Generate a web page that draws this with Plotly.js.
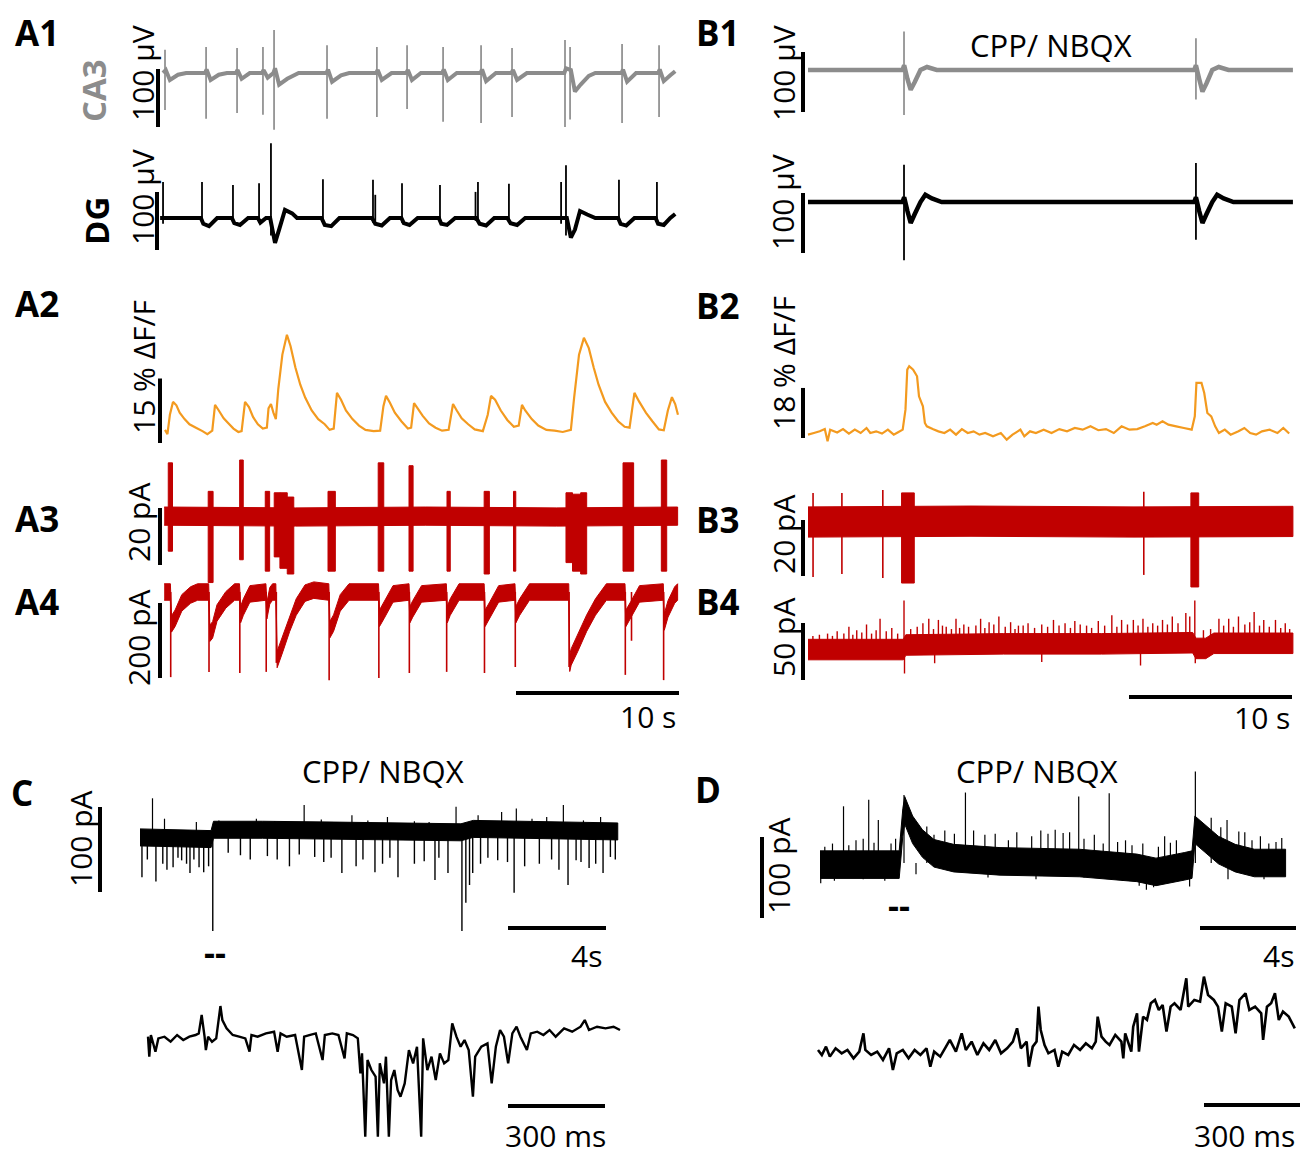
<!DOCTYPE html>
<html><head><meta charset="utf-8">
<script src="https://cdn.plot.ly/plotly-3.0.1.min.js"></script>
<style>html,body{margin:0;padding:0;background:#fff}#chart{width:1302px;height:1157px}</style>
</head><body><div id="chart"></div>
<script>
// ================= DATA (time in s / ms, amplitudes in µV, %ΔF/F, pA) =================
// A1 CA3 field potential (µV)
const ca3SpikeT  = [0.0, 2.52, 4.42, 6.01, 6.69, 9.94, 13.0, 14.85, 17.06, 19.39, 21.29, 24.54, 24.85, 28.04, 30.31];
const ca3SpikeHi = [40, 45, 43, 45, 74, 48, 45, 48, 45, 48, 43, 57, 45, 50, 48];
const ca3SpikeLo = [-64, -79, -69, -72, -98, -79, -76, -62, -84, -86, -76, -93, -80, -86, -76];
const ca3Slow = [[-0.12,0],[0.05,5],[0.3,-12],[0.8,-3],[1.3,0],[2.45,0],[2.55,6],[2.8,-12],[3.3,-3],[3.8,0],[4.35,0],[4.45,5],[4.7,-10],[5.2,0],[5.95,0],[6.05,5],[6.3,-8],[6.65,0],[6.75,8],[7.0,-20],[7.5,-10],[8.2,0],[9.9,0],[10.0,6],[10.25,-15],[10.8,-4],[11.3,0],[12.95,0],[13.05,5],[13.3,-12],[13.9,0],[14.8,0],[14.9,5],[15.15,-12],[15.7,0],[17.0,0],[17.1,6],[17.35,-12],[17.9,0],[19.35,0],[19.45,6],[19.7,-14],[20.3,0],[21.25,0],[21.35,5],[21.6,-12],[22.2,0],[24.5,0],[24.6,8],[24.9,5],[25.15,-32],[25.5,-20],[26.0,-5],[26.4,0],[28.0,0],[28.1,6],[28.35,-15],[28.9,0],[30.25,0],[30.35,6],[30.6,-14],[31.0,-4],[31.3,3]];
// A1 DG field potential (µV)
const dgSpikeT  = [-0.12, 2.27, 4.17, 5.77, 6.5, 9.69, 12.76, 12.9, 14.54, 16.87, 19.05, 19.2, 21.1, 24.3, 24.6, 27.85, 30.18];
const dgSpikeHi = [62, 62, 57, 60, 129, 67, 66, 40, 60, 57, 45, 62, 59, 62, 91, 66, 62];
const dgSpikeLo = [-10, -8, -8, -8, -30, -8, -8, -5, -8, -8, -5, -8, -8, -10, -30, -8, -8];
const dgSlow = [[-0.3,0],[2.2,0],[2.35,-10],[2.7,-14],[3.2,0],[4.1,0],[4.25,-9],[4.6,-12],[5.1,0],[5.7,0],[5.85,-8],[6.2,0],[6.45,0],[6.75,-43],[7.0,-20],[7.36,14],[7.8,8],[8.1,0],[9.6,0],[9.8,-12],[10.2,-14],[10.7,0],[12.7,0],[12.9,-10],[13.3,-13],[13.8,0],[14.5,0],[14.65,-9],[15.0,-12],[15.5,0],[16.8,0],[16.95,-10],[17.3,-12],[17.8,0],[19.1,0],[19.3,-10],[19.7,-13],[20.2,0],[21.0,0],[21.2,-9],[21.6,-12],[22.1,0],[24.2,0],[24.65,0],[24.9,-34],[25.15,-20],[25.46,12],[25.9,6],[26.4,0],[27.8,0],[27.95,-10],[28.3,-13],[28.8,0],[30.1,0],[30.25,-10],[30.6,-12],[31.0,0],[31.3,7]];
// B1 (CPP/NBQX) CA3 and DG (µV)
const b1gSpikeT = [5.89, 23.8], b1gSpikeHi = [64, 53], b1gSpikeLo = [-75, -49];
const b1gSlow = [[0,0],[5.8,0],[5.9,8],[6.1,-15],[6.3,-33],[6.55,-20],[6.9,0],[7.3,5],[7.9,0],[23.7,0],[23.8,8],[24.0,-15],[24.2,-36],[24.45,-22],[24.8,0],[25.2,5],[25.8,0],[29.75,0]];
const b1kSpikeT = [5.89, 23.8], b1kSpikeHi = [62, 65], b1kSpikeLo = [-97, -63];
const b1kSlow = [[0,0],[5.8,0],[5.9,8],[6.1,-15],[6.3,-35],[6.55,-20],[6.9,0],[7.2,12],[7.6,6],[8.2,0],[23.7,0],[23.8,8],[24.0,-15],[24.2,-35],[24.45,-20],[24.8,0],[25.1,12],[25.5,6],[26.1,0],[29.75,0]];
// A2 calcium signal (% ΔF/F)
const a2Trace = [[0.0,0.5],[0.15,-0.5],[0.3,4],[0.49,7.0],[0.7,6.2],[0.9,4.5],[1.2,3],[1.5,1.8],[1.9,1.0],[2.3,0.2],[2.6,-0.5],[2.9,0.3],[3.07,6.3],[3.3,5.0],[3.6,3.2],[3.9,2.0],[4.2,0.8],[4.5,0.0],[4.7,0.2],[4.91,7.0],[5.15,5.8],[5.4,3.5],[5.7,1.8],[6.0,0.8],[6.25,1.0],[6.35,5.5],[6.5,6.5],[6.65,4.5],[6.8,3.0],[6.95,10],[7.2,18],[7.48,22.6],[7.7,20],[8.0,15],[8.3,11],[8.6,8],[9.0,5],[9.4,3],[9.8,1.8],[10.1,0.5],[10.35,0.8],[10.55,9.1],[10.8,7.5],[11.1,5],[11.5,3],[11.9,1.5],[12.3,0.5],[12.8,0.2],[13.2,0.3],[13.4,6],[13.56,8.4],[13.8,6.8],[14.1,4.5],[14.5,2.5],[14.9,0.8],[15.1,1],[15.28,6.7],[15.5,5.5],[15.8,3.8],[16.2,2.0],[16.6,1.0],[17.0,0.3],[17.4,0.5],[17.67,6.5],[17.9,5.0],[18.2,3.2],[18.6,1.8],[19.0,0.6],[19.5,0.2],[19.8,4],[20.0,8.4],[20.25,7.5],[20.6,5],[21.0,2.8],[21.4,1.2],[21.7,1.5],[21.9,6.3],[22.1,5.0],[22.5,3.0],[22.9,1.5],[23.4,0.5],[23.9,0.3],[24.4,0.0],[24.9,0.5],[25.1,8],[25.4,18],[25.7,21.9],[26.0,19.5],[26.3,15],[26.6,11],[27.0,7],[27.4,4.5],[27.8,2.5],[28.2,1.2],[28.5,1.0],[28.8,9.1],[29.1,7.0],[29.5,4.5],[29.9,2.5],[30.3,0.6],[30.6,0.4],[30.85,5],[31.1,8.1],[31.3,6.5],[31.47,4.0]];
// B2 calcium signal (% ΔF/F)
const b2Trace = [[0,-0.6],[0.36,0],[0.72,0.6],[1.03,1.4],[1.2,-3.0],[1.36,1.2],[1.79,0.2],[2.15,1.4],[2.51,-0.2],[2.87,1.2],[3.23,0],[3.59,1.8],[3.82,0],[4.18,0.6],[4.54,-0.2],[4.9,1.2],[5.26,-0.6],[5.5,0.2],[5.81,1.2],[5.98,8.4],[6.09,22.8],[6.21,24.0],[6.45,22.8],[6.69,20.4],[6.81,13.2],[7.05,9.6],[7.17,3.6],[7.29,2.4],[7.65,1.4],[8.0,0.6],[8.37,0],[8.72,1.2],[9.08,-0.6],[9.44,1.4],[9.8,0],[10.16,0.6],[10.52,-0.6],[10.87,0],[11.35,-1.2],[11.83,0],[12.19,-2.4],[12.55,-0.6],[13.03,1.2],[13.27,-1.2],[13.62,0.6],[13.98,0],[14.46,1.2],[14.94,0],[15.42,1.4],[15.89,0.6],[16.37,1.8],[16.85,1.2],[17.33,2.4],[17.81,1.0],[18.28,1.4],[18.76,0],[19.24,2.4],[19.72,1.2],[20.2,1.4],[20.67,2.4],[21.15,3.6],[21.39,3.0],[21.75,4.2],[22.11,3.0],[22.59,2.4],[23.06,1.8],[23.54,1.2],[23.73,6.0],[23.83,18.0],[24.14,18.0],[24.31,14.4],[24.5,7.2],[24.74,6.0],[24.98,2.4],[25.21,0],[25.57,1.2],[25.93,-0.6],[26.41,0.6],[26.77,1.8],[27.13,0],[27.49,-0.6],[27.85,0.6],[28.32,1.2],[28.8,0],[29.16,1.8],[29.52,-0.2]];
// A3 cell-attached current (pA): noise band centre, half-width, bursts
const a3Band = [[-0.05,0.3],[8,0],[16,0.3],[24,0],[31.45,0.3]];
const a3Noise = 3.2;
const a3BurstT0 = [0.2, 2.65, 4.58, 6.15, 6.7, 7.05, 7.5, 10.0, 13.08, 14.97, 17.3, 19.58, 21.38, 24.6, 25.0, 25.5, 28.1, 30.45];
const a3BurstT1 = [0.46, 2.95, 4.8, 6.42, 7.05, 7.5, 7.9, 10.45, 13.42, 15.22, 17.5, 19.9, 21.52, 25.0, 25.5, 25.87, 28.75, 30.78];
const a3BurstHi = [19, 9, 20, 9, 8.5, 8.5, 7, 9, 19, 18, 9, 9, 9, 8.5, 8, 8.5, 19, 20];
const a3BurstLo = [-12, -23, -15, -19, -14, -18, -20, -19, -19, -19, -19, -20, -19, -16, -19, -20, -19, -19];
// A4 whole-cell current (pA)
const a4Slow = [[-0.05,0],[0.33,0],[0.4,-85],[0.62,-70],[1.03,-29],[1.57,-8],[2.0,0],[2.68,0],[2.75,-110],[2.92,-101],[3.19,-56],[3.73,-21],[4.27,0],[4.57,0],[4.64,-60],[4.81,-40],[5.21,-5],[6.19,0],[6.25,-50],[6.43,-10],[6.6,0],[6.8,0],[6.88,-180],[7.24,-136],[7.65,-83],[8.05,-40],[8.59,-3],[9.13,5],[10.05,0],[10.12,-100],[10.34,-83],[10.75,-29],[11.29,0],[13.1,0],[13.16,-70],[13.45,-48],[13.99,-5],[14.97,0],[15.03,-60],[15.2,-45],[15.74,-5],[17.26,0],[17.32,-60],[17.5,-40],[18.04,0],[19.58,0],[19.64,-70],[19.93,-48],[20.47,-5],[21.47,0],[21.53,-60],[21.76,-40],[22.36,0],[24.77,0],[24.83,-190],[24.92,-173],[25.33,-136],[25.87,-83],[26.41,-40],[27.08,0],[28.22,0],[28.28,-70],[28.57,-48],[29.11,-5],[30.57,0],[30.63,-80],[30.86,-45],[31.27,-8],[31.45,0]];
const a4Noise = 22;
const a4SpikeT  = [0.35, 2.7, 4.59, 6.21, 6.83, 10.07, 13.12, 14.99, 17.28, 19.6, 21.49, 24.79, 28.24, 28.62, 30.59];
const a4SpikeLo = [-227, -213, -216, -213, -189, -235, -229, -216, -213, -216, -200, -200, -221, -130, -235];
// B3 cell-attached current (pA)
const b3Band = [[0,0],[10,0.3],[20,0],[29.75,0.2]];
const b3Noise = 5.4;
const b3SpikeT = [0.31, 2.08, 4.59, 20.6], b3SpikeHi = [10.4, 10.4, 11.4, 10.8], b3SpikeLo = [-19.6, -18.6, -20, -18.9];
const b3BurstT0 = [5.74, 23.49], b3BurstT1 = [6.52, 23.97], b3BurstHi = [10.4, 10.4], b3BurstLo = [-21.8, -23.2];
// B4 whole-cell current (pA)
const b4Slow = [[0,-4],[5.85,-4],[6.0,0],[12,1],[18,1],[23.6,2],[23.8,-3],[24.4,-3],[24.9,1.5],[29.75,1.5]];
const b4Noise = 9;
const b4SpikeT  = [0.3,0.7,1.2,1.5,1.79,2.2,2.51,2.75,2.99,3.3,3.59,3.9,4.18,4.42,4.8,5.14,5.5,5.89,6.3,6.7,7.05,7.41,7.7,8.0,8.25,8.48,8.8,9.08,9.3,9.56,9.85,10.3,10.59,10.85,11.11,11.4,11.71,12.1,12.43,12.7,12.91,13.2,13.5,13.9,14.34,14.7,15.06,15.4,15.77,16.1,16.37,16.7,17.09,17.4,17.81,18.2,18.64,18.95,19.24,19.6,19.96,20.25,20.55,20.85,21.15,21.45,21.75,22.05,22.35,22.7,23.18,23.42,23.73,24.26,24.7,25.21,25.5,25.81,26.1,26.41,26.8,27.1,27.37,27.7,27.96,28.3,28.68,29.0,29.28,29.55];
const b4SpikeHi = [8,9,10,8,12,10,16,9,13,11,18,10,13,23,12,15,10,39,14,16,19,23,14,22,17,16,14,23,15,18,16,17,23,15,20,18,25,16,20,14,17,17,19,15,18,16,22,17,19,15,21,18,17,15,21,17,26,16,22,18,22,17,23,16,19,17,22,18,25,19,28,25,39,13,14,23,17,23,16,25,18,20,29,17,22,16,22,15,19,14];
const b4DownT  = [5.92, 7.77, 14.34, 20.4, 23.76];
const b4DownLo = [-25, -16, -15, -18, -16];
// C: current under CPP/NBQX (pA, s)
const cBand = [[0,-4],[1.5,-5],[2.9,-6],[3.0,5],[5,5],[8,4],[11,3],[13.1,2],[13.6,6],[16,5],[19.5,3]];
const cNoise = 10;
const cDownT  = [0.08,0.3,0.65,0.93,1.1,1.35,1.55,1.7,1.9,2.04,2.2,2.41,2.6,2.8,2.97,3.6,4.1,4.5,5.2,5.6,6.1,6.5,7.13,7.5,7.8,8.24,8.82,9.1,9.59,9.9,10.2,10.53,11.2,11.6,12.04,12.2,12.57,13.14,13.3,13.45,13.58,13.9,14.2,14.6,15.0,15.27,15.7,16.3,16.8,17.1,17.47,17.8,18.0,18.33,18.6,18.9,19.2,19.4];
const cDownLo = [-51,-30,-56,-35,-42,-39,-28,-31,-35,-46,-30,-39,-45,-38,-114,-22,-25,-30,-26,-30,-38,-24,-27,-33,-28,-46,-38,-30,-45,-35,-28,-51,-35,-32,-54,-28,-46,-114,-81,-60,-46,-35,-28,-31,-33,-69,-38,-35,-30,-42,-60,-31,-33,-40,-35,-46,-27,-30];
const cUpT  = [0.51,1.0,2.3,3.22,4.75,5.5,6.7,7.4,8.65,9.3,10.1,11.2,11.8,12.9,13.8,14.76,15.36,16.0,16.6,17.28,18.1,18.8];
const cUpHi = [42,18,14,16,18,15,34,17,22,16,20,15,14,32,22,26,30,18,20,34,16,20];
// C inset (pA, ms)
const cInset = [[0,0],[4,-60],[9,5],[23,-45],[32,-5],[51,0],[70,-15],[90,5],[109,-10],[128,0],[147,5],[157,10],[166,65],[175,0],[179,-40],[186,0],[198,-15],[211,-5],[224,92],[230,50],[243,25],[262,5],[282,0],[301,-5],[314,-45],[320,5],[339,0],[365,10],[390,15],[401,-45],[410,10],[429,0],[455,5],[476,-100],[483,0],[499,5],[519,10],[540,-70],[547,5],[570,10],[589,5],[608,-65],[615,10],[634,5],[649,-5],[657,-110],[662,-50],[672,-300],[679,-70],[691,-100],[704,-120],[711,-300],[717,-80],[730,-140],[736,-60],[745,-300],[752,-130],[762,-100],[772,-160],[781,-180],[794,-140],[807,-40],[820,-80],[832,-30],[845,-300],[851,-5],[864,-100],[877,-60],[890,-130],[903,-50],[916,-80],[929,-70],[941,40],[954,0],[967,-30],[979,-10],[992,-40],[1005,-180],[1012,-60],[1031,-30],[1050,-20],[1063,-140],[1076,-30],[1089,20],[1101,0],[1114,-80],[1127,10],[1140,30],[1152,0],[1172,-40],[1184,10],[1204,15],[1223,5],[1242,20],[1261,0],[1287,25],[1312,15],[1338,30],[1351,50],[1364,20],[1389,30],[1415,25],[1440,30],[1460,20]];
// D: current under CPP/NBQX (pA, s)
const dBand = [[0,-2],[3.3,-2],[3.45,50],[3.53,65],[3.86,41],[4.27,24],[4.75,12],[5.57,6],[7.5,2],[10.8,0],[13.2,-6],[14.0,-11],[15.2,-4],[15.5,-2],[15.62,41],[16.15,28],[16.6,16],[17.3,6],[18.1,0],[19.4,0]];
const dNoise = 17;
const dUpT  = [0.2,0.52,0.98,1.2,1.5,1.8,2.03,2.25,2.43,2.96,3.15,3.5,4.45,4.75,5.2,5.6,6.06,6.4,6.87,7.3,7.85,8.2,8.82,9.2,9.5,9.8,10.13,10.4,10.78,11.0,11.43,11.8,12.05,12.4,12.73,13.0,13.45,14.1,14.36,14.6,14.85,15.64,16.3,16.7,16.96,17.45,17.7,18.0,18.35,18.7,19.0,19.24];
const dUpHi = [20,24,70,22,28,30,78,25,53,24,30,84,45,35,40,36,87,40,35,36,28,38,33,40,36,41,37,38,82,30,35,24,86,26,28,22,24,20,33,25,28,113,56,44,53,39,38,28,33,24,26,31];
const dDownT  = [0.03,0.6,1.8,2.7,4.0,7.0,9.0,11.0,12.6,13.3,13.6,13.9,14.3,15.4,17.0,18.5];
const dDownLo = [-25,-22,-20,-22,-14,-18,-20,-18,-22,-28,-33,-30,-25,-29,-20,-20];
// D inset (pA, ms)
const dInset = [[0,10],[12,-5],[25,20],[37,-10],[55,15],[74,0],[92,10],[111,-15],[129,5],[142,60],[148,10],[166,-5],[185,5],[203,-20],[222,15],[234,-50],[246,0],[265,10],[283,-15],[302,10],[320,-5],[339,15],[351,-40],[363,5],[382,-10],[400,20],[412,40],[431,5],[449,60],[462,10],[480,35],[498,-5],[517,30],[535,10],[554,40],[572,0],[591,15],[609,35],[622,75],[634,15],[652,35],[659,-40],[671,20],[683,35],[689,140],[696,70],[708,25],[720,0],[739,10],[751,-40],[763,5],[782,-5],[800,25],[819,10],[837,30],[856,15],[868,35],[874,110],[886,50],[899,35],[911,25],[929,55],[948,35],[954,-15],[960,60],[979,5],[985,80],[997,120],[1003,5],[1016,110],[1028,100],[1040,150],[1053,160],[1065,130],[1077,145],[1089,65],[1102,140],[1114,150],[1133,130],[1151,225],[1157,140],[1176,160],[1194,155],[1206,230],[1219,175],[1237,160],[1250,140],[1262,65],[1274,150],[1293,140],[1305,60],[1317,160],[1336,180],[1348,130],[1366,140],[1385,120],[1391,40],[1403,140],[1416,150],[1428,180],[1440,100],[1453,125],[1471,110],[1490,75]];
// Scale-bar values
const vBarLabels = ['100 µV','100 µV','100 µV','100 µV','15 % ΔF/F','18 % ΔF/F','20 pA','20 pA','200 pA','50 pA','100 pA','100 pA'];
const vBarValues = [100, 100, 100, 100, 15, 18, 20, 20, 200, 50, 100, 100];
const tBarLabels = ['10 s','10 s','4s','4s','300 ms','300 ms'];
const tBarValues = [10, 10, 4, 4, 300, 300];
const panelLetters = ['A1','B1','A2','B2','A3','B3','A4','B4','C','D'];

// ================= RENDERING =================
const W = 1302, H = 1157;
const FONT = "'Open Sans', 'Liberation Sans', sans-serif";
const GRAY = '#8c8c8c', ORANGE = '#f39a1f', RED = '#c00000', BLACK = '#000000';
const layout = {width: W, height: H, margin: {l:0, r:0, t:0, b:0}, paper_bgcolor: '#ffffff',
  plot_bgcolor: 'rgba(0,0,0,0)', showlegend: false, shapes: [], annotations: []};
const data = [];
let nAx = 0;
function panel(box, tpx0, ppu, base, k) {
  nAx++; const s = nAx === 1 ? '' : String(nAx);
  layout['xaxis' + s] = {domain: [box[0] / W, box[1] / W], range: [(box[0] - tpx0) / ppu, (box[1] - tpx0) / ppu],
    visible: false, fixedrange: true, anchor: 'y' + s};
  layout['yaxis' + s] = {domain: [1 - box[3] / H, 1 - box[2] / H], range: [(base - box[3]) / k, (base - box[2]) / k],
    visible: false, fixedrange: true, anchor: 'x' + s};
  return {xa: 'x' + s, ya: 'y' + s, toX: px => (px - tpx0) / ppu, toY: py => (base - py) / k};
}
function line(P, pairs, color, width) {
  data.push({type: 'scatter', mode: 'lines', xaxis: P.xa, yaxis: P.ya, x: pairs.map(p => p[0]), y: pairs.map(p => p[1]),
    line: {color, width, simplify: false}, hoverinfo: 'skip'});
}
// noise band: centre line +/- the noise half-width
function band(P, pairs, hw, color) {
  const x = pairs.map(p => p[0]).concat(pairs.map(p => p[0]).reverse());
  const y = pairs.map(p => p[1] + hw).concat(pairs.map(p => p[1] - hw).reverse());
  data.push({type: 'scatter', mode: 'lines', xaxis: P.xa, yaxis: P.ya, x, y, fill: 'toself', fillcolor: color,
    line: {color, width: 1}, hoverinfo: 'skip'});
}
function spikes(P, ts, his, los, color, width) {
  const x = [], y = [];
  ts.forEach((t, i) => { x.push(t, t, null); y.push(los[i], his[i], null); });
  data.push({type: 'scatter', mode: 'lines', xaxis: P.xa, yaxis: P.ya, x, y, line: {color, width, simplify: false}, hoverinfo: 'skip'});
}
function blocks(P, t0, t1, hi, lo, color) {
  const x = [], y = [];
  t0.forEach((a, i) => { const b = t1[i]; x.push(a, b, b, a, a, null); y.push(lo[i], lo[i], hi[i], hi[i], lo[i], null); });
  data.push({type: 'scatter', mode: 'lines', xaxis: P.xa, yaxis: P.ya, x, y, fill: 'toself', fillcolor: color,
    line: {color, width: 1}, hoverinfo: 'skip'});
}
function vbar(P, xpx, ybot, val) {
  const x = P.toX(xpx), y0 = P.toY(ybot);
  layout.shapes.push({type: 'line', xref: P.xa, yref: P.ya, x0: x, x1: x, y0: y0, y1: y0 + val, line: {color: BLACK, width: 4}});
}
function hbar(P, xstart, ypx, val) {
  const x0 = P.toX(xstart), y = P.toY(ypx);
  layout.shapes.push({type: 'line', xref: P.xa, yref: P.ya, x0: x0, x1: x0 + val, y0: y, y1: y, line: {color: BLACK, width: 4}});
}
function txt(text, xpx, ypx, size, angle, color, yanchor) {
  layout.annotations.push({text, x: xpx / W, y: 1 - ypx / H, xref: 'paper', yref: 'paper', showarrow: false,
    xanchor: 'center', yanchor: yanchor || 'middle', textangle: angle || 0, borderpad: 0,
    font: {family: FONT, size, color: color || BLACK}});
}
const zeros = ts => ts.map(() => 0);

// panels: box [x0,x1,y0,y1] px, px of t=0, px per time unit, px of baseline, px per amplitude unit
const A1c = panel([150, 690, 18, 140], 165, 16.3, 73, 0.58);
const A1d = panel([150, 690, 140, 278], 165, 16.3, 218, 0.58);
const B1g = panel([790, 1300, 18, 135], 808, 16.3, 70, 0.6);
const B1k = panel([790, 1300, 140, 278], 808, 16.3, 202, 0.6);
const A2p = panel([150, 690, 320, 452], 165, 16.3, 432, 4.3);
const B2p = panel([790, 1300, 340, 452], 808, 16.3, 433, 2.78);
const A3p = panel([150, 690, 455, 587], 165, 16.3, 517, 2.85);
const A4p = panel([150, 690, 578, 702], 165, 16.3, 592, 0.375);
const B3p = panel([790, 1300, 480, 600], 808, 16.3, 522, 2.8);
const B4p = panel([790, 1300, 590, 706], 808, 16.3, 645, 1.14);
const Ctp = panel([90, 630, 760, 936], 140, 24.5, 834, 0.85);
const Cbp = panel([90, 630, 990, 1150], 148, 0.3233, 1036.7, 1 / 3);
const Dtp = panel([745, 1302, 760, 936], 820, 24, 863, 0.81);
const Dbp = panel([745, 1302, 960, 1150], 818, 0.32, 1053.3, 1 / 3);

// A1
line(A1c, ca3Slow, GRAY, 4); spikes(A1c, ca3SpikeT, ca3SpikeHi, ca3SpikeLo, GRAY, 1.7);
line(A1d, dgSlow, BLACK, 4); spikes(A1d, dgSpikeT, dgSpikeHi, dgSpikeLo, BLACK, 1.8);
// B1
line(B1g, b1gSlow, GRAY, 4.5); spikes(B1g, b1gSpikeT, b1gSpikeHi, b1gSpikeLo, GRAY, 1.7);
line(B1k, b1kSlow, BLACK, 4.5); spikes(B1k, b1kSpikeT, b1kSpikeHi, b1kSpikeLo, BLACK, 1.8);
// A2 / B2
line(A2p, a2Trace, ORANGE, 2.2);
line(B2p, b2Trace, ORANGE, 2.2);
// A3 / A4
band(A3p, a3Band, a3Noise, RED); blocks(A3p, a3BurstT0, a3BurstT1, a3BurstHi, a3BurstLo, RED);
band(A4p, a4Slow, a4Noise, RED); spikes(A4p, a4SpikeT, zeros(a4SpikeT), a4SpikeLo, RED, 1.6);
// B3 / B4
band(B3p, b3Band, b3Noise, RED); spikes(B3p, b3SpikeT, b3SpikeHi, b3SpikeLo, RED, 1.6);
blocks(B3p, b3BurstT0, b3BurstT1, b3BurstHi, b3BurstLo, RED);
band(B4p, b4Slow, b4Noise, RED); spikes(B4p, b4SpikeT, b4SpikeHi, zeros(b4SpikeT), RED, 1.4);
spikes(B4p, b4DownT, zeros(b4DownT), b4DownLo, RED, 1.4);
// C
band(Ctp, cBand, cNoise, BLACK); spikes(Ctp, cDownT, zeros(cDownT), cDownLo, BLACK, 1.4);
spikes(Ctp, cUpT, cUpHi, zeros(cUpT), BLACK, 1.2);
line(Cbp, cInset, BLACK, 2.4);
// D
band(Dtp, dBand, dNoise, BLACK); spikes(Dtp, dUpT, dUpHi, zeros(dUpT), BLACK, 1.2);
spikes(Dtp, dDownT, zeros(dDownT), dDownLo, BLACK, 1.2);
line(Dbp, dInset, BLACK, 2.6);

// vertical scale bars (panel, x px, bottom px, label x px, label centre y px)
const vBarPlace = [[A1c,158,127,142,73],[A1d,157,250,142,197],[B1g,803,112,783,73],[B1k,803,253,783,202],
  [A2p,160,443,143,367],[B2p,803,438,783,363],[A3p,160,565,138,523],[B3p,803,576,783,535],
  [A4p,160,678,138,638],[B4p,803,680,783,638],[Ctp,100,892,80,839],[Dtp,762,918,778,866]];
vBarPlace.forEach((p, i) => { vbar(p[0], p[1], p[2], vBarValues[i]); txt(vBarLabels[i], p[3], p[4], 30, -90); });
// time scale bars (panel, start x px, y px, label x, label y, anchor)
const tBarPlace = [[A4p,516,693,648,716,'middle'],[B4p,1129,697,1262,717,'middle'],[Ctp,508,928,586,955,'middle'],
  [Dtp,1200,928,1278,955,'middle'],[Cbp,508,1106,555,1157,'bottom'],[Dbp,1204,1105,1244,1157,'bottom']];
tBarPlace.forEach((p, i) => { hbar(p[0], p[1], p[2], tBarValues[i]); txt(tBarLabels[i], p[3], p[4], 30, 0, BLACK, p[5]); });

// panel letters
const letterPos = [[37,32],[718,32],[37,303],[718,305],[37,518],[718,519],[37,601],[718,601],[22,792],[708,789]];
panelLetters.forEach((L, i) => txt('<b>' + L + '</b>', letterPos[i][0], letterPos[i][1], 35));
// region labels
txt('<b>CA3</b>', 94, 91, 33, -90, GRAY);
txt('<b>DG</b>', 96, 221, 33, -90, BLACK);
txt('CPP/ NBQX', 1051, 45, 31); txt('CPP/ NBQX', 383, 771, 31); txt('CPP/ NBQX', 1037, 771, 31);
txt('<b>--</b>', 215, 952, 34); txt('<b>--</b>', 899, 905, 34);

Plotly.newPlot('chart', data, layout, {staticPlot: true, displayModeBar: false});
</script></body></html>
